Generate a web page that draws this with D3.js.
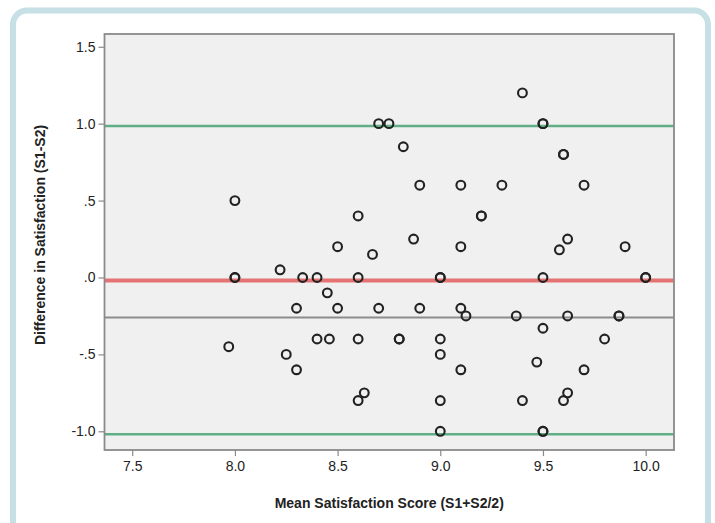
<!DOCTYPE html>
<html>
<head>
<meta charset="utf-8">
<script src="https://cdn.jsdelivr.net/npm/d3@7/dist/d3.min.js"></script>
<style>
  html, body { margin: 0; padding: 0; background: #ffffff; }
  svg { display: block; font-family: "Liberation Sans", Arial, sans-serif; }
</style>
</head>
<body>
<svg id="chart" width="715" height="523"></svg>
<script>
// Bland-Altman style agreement plot: mean of two scores vs. their difference
const meanScore = [
  7.97, 8.0, 8.0, 8.0, 8.22, 8.25, 8.3, 8.3, 8.33, 8.4,
  8.4, 8.45, 8.46, 8.5, 8.5, 8.6, 8.6, 8.6, 8.6, 8.63,
  8.67, 8.7, 8.7, 8.75, 8.82, 8.8, 8.8, 8.87, 8.9, 8.9,
  9.0, 9.0, 9.0, 9.0, 9.0, 9.0, 9.1, 9.1, 9.1, 9.125,
  9.1, 9.2, 9.2, 9.3, 9.37, 9.4, 9.4, 9.47, 9.5, 9.5,
  9.5, 9.5, 9.5, 9.5, 9.58, 9.6, 9.6, 9.6, 9.62, 9.62,
  9.62, 9.7, 9.7, 9.8, 9.87, 9.87, 9.9, 10.0, 10.0
];
const diffScore = [
  -0.45, 0.5, 0.0, 0.0, 0.05, -0.5, -0.2, -0.6, 0.0, 0.0,
  -0.4, -0.1, -0.4, 0.2, -0.2, 0.4, 0.0, -0.4, -0.8, -0.75,
  0.15, 1.0, -0.2, 1.0, 0.85, -0.4, -0.4, 0.25, 0.6, -0.2,
  0.0, 0.0, -0.4, -0.5, -0.8, -1.0, 0.6, 0.2, -0.2, -0.25,
  -0.6, 0.4, 0.4, 0.6, -0.25, 1.2, -0.8, -0.55, 1.0, 1.0,
  0.0, -0.33, -1.0, -1.0, 0.18, 0.8, 0.8, -0.8, 0.25, -0.25,
  -0.75, 0.6, -0.6, -0.4, -0.25, -0.25, 0.2, 0.0, 0.0
];

// Horizontal reference lines
const meanDifference = -0.02;
const upperLimit = 0.985;
const lowerLimit = -1.02;
const otherReference = -0.26;

const xTickValues = [7.5, 8.0, 8.5, 9.0, 9.5, 10.0];
const xTickLabels = ["7.5", "8.0", "8.5", "9.0", "9.5", "10.0"];
const yTickValues = [1.5, 1.0, 0.5, 0.0, -0.5, -1.0];
const yTickLabels = ["1.5", "1.0", ".5", ".0", "-.5", "-1.0"];

const xTitle = "Mean Satisfaction Score (S1+S2/2)";
const yTitle = "Difference in Satisfaction (S1-S2)";

const svg = d3.select("#chart");

// card frame
svg.append("rect")
  .attr("x", 13).attr("y", 10.5)
  .attr("width", 695).attr("height", 540)
  .attr("rx", 14).attr("ry", 14)
  .attr("fill", "#ffffff")
  .attr("stroke", "#c6e0e5")
  .attr("stroke-width", 6);

const plot = { left: 104.5, right: 674, top: 34, bottom: 450 };

const x = d3.scaleLinear().domain([7.365, 10.138]).range([plot.left, plot.right]);
const y = d3.scaleLinear().domain([-1.1216, 1.583]).range([plot.bottom, plot.top]);

// plot background
svg.append("rect")
  .attr("x", plot.left).attr("y", plot.top)
  .attr("width", plot.right - plot.left).attr("height", plot.bottom - plot.top)
  .attr("fill", "#f0f0f0");

// reference lines
const refLines = [
  { v: otherReference, color: "#8c8c8c", w: 2 },
  { v: upperLimit, color: "#5fae86", w: 2.5 },
  { v: lowerLimit, color: "#5fae86", w: 2.5 },
  { v: meanDifference, color: "#e57373", w: 4 }
];
svg.append("g").selectAll("line").data(refLines).join("line")
  .attr("x1", plot.left).attr("x2", plot.right)
  .attr("y1", d => y(d.v)).attr("y2", d => y(d.v))
  .attr("stroke", d => d.color)
  .attr("stroke-width", d => d.w);

// points
svg.append("g").selectAll("circle")
  .data(d3.range(meanScore.length))
  .join("circle")
  .attr("cx", i => x(meanScore[i]))
  .attr("cy", i => y(diffScore[i]))
  .attr("r", 4.4)
  .attr("fill", "none")
  .attr("stroke", "#222")
  .attr("stroke-width", 2.1);

// frame
svg.append("rect")
  .attr("x", plot.left).attr("y", plot.top)
  .attr("width", plot.right - plot.left).attr("height", plot.bottom - plot.top)
  .attr("fill", "none")
  .attr("stroke", "#8a8a8a")
  .attr("stroke-width", 1.8);

// axes
const xAxis = d3.axisBottom(x)
  .tickValues(xTickValues)
  .tickFormat((d, i) => xTickLabels[i])
  .tickSize(6).tickSizeOuter(0).tickPadding(5);
const gx = svg.append("g").attr("transform", `translate(0,${plot.bottom})`).call(xAxis);
gx.select(".domain").remove();
gx.selectAll(".tick line").attr("stroke", "#8a8a8a").attr("stroke-width", 1.2);
gx.selectAll(".tick text").attr("fill", "#222").attr("font-size", 14)
  .attr("font-family", "'Liberation Sans', Arial, sans-serif");

const yAxis = d3.axisLeft(y)
  .tickValues(yTickValues)
  .tickFormat((d, i) => yTickLabels[i])
  .tickSize(6).tickSizeOuter(0).tickPadding(3);
const gy = svg.append("g").attr("transform", `translate(${plot.left},0)`).call(yAxis);
gy.select(".domain").remove();
gy.selectAll(".tick line").attr("stroke", "#8a8a8a").attr("stroke-width", 1.2);
gy.selectAll(".tick text").attr("fill", "#222").attr("font-size", 14)
  .attr("font-family", "'Liberation Sans', Arial, sans-serif");

// axis titles
svg.append("text")
  .attr("x", (plot.left + plot.right) / 2).attr("y", 508)
  .attr("text-anchor", "middle")
  .attr("font-size", 14).attr("font-weight", "bold").attr("fill", "#222")
  .text(xTitle);

svg.append("text")
  .attr("transform", "translate(45,235) rotate(-90)")
  .attr("text-anchor", "middle")
  .attr("font-size", 14).attr("font-weight", "bold").attr("fill", "#222")
  .text(yTitle);
</script>
</body>
</html>
